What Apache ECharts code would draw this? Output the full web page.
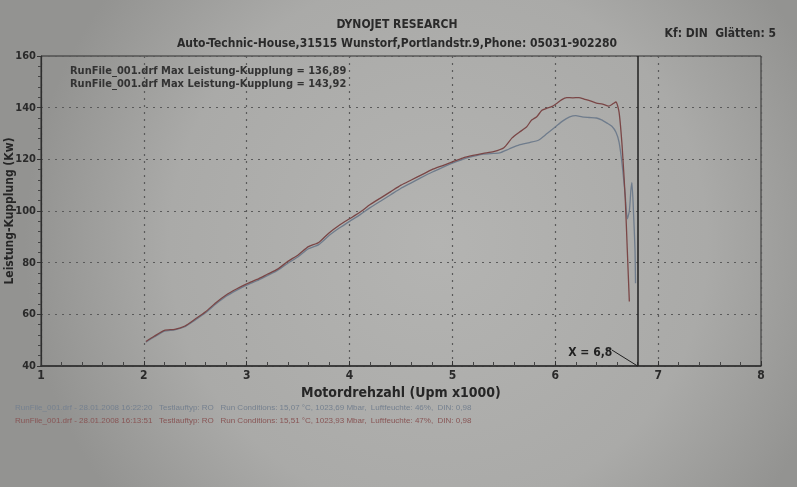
<!DOCTYPE html>
<html><head><meta charset="utf-8">
<script src="https://cdn.jsdelivr.net/npm/echarts@6/dist/echarts.min.js"></script>
<style>html,body{margin:0;padding:0;}#c{width:797px;height:487px;}</style>
</head><body><div id="c"></div>
<script>
var redRpm = [2.02,2.10,2.20,2.30,2.40,2.50,2.60,2.70,2.80,2.90,3.00,3.10,3.20,3.30,3.40,3.50,3.60,3.70,3.80,3.90,4.00,4.10,4.20,4.30,4.40,4.50,4.60,4.70,4.80,4.90,5.00,5.10,5.20,5.30,5.40,5.50,5.58,5.65,5.72,5.77,5.82,5.87,5.92,5.97,6.02,6.06,6.11,6.17,6.23,6.28,6.34,6.40,6.46,6.52,6.56,6.59,6.62,6.65,6.68,6.70,6.72];
var redKw  = [49.5,51.5,53.8,54.2,55.5,58.2,61.0,64.5,67.5,69.8,71.8,73.5,75.5,77.5,80.5,83.0,86.2,87.8,91.5,94.5,97.0,99.5,102.5,105.0,107.5,110.0,112.0,114.0,116.0,117.5,119.0,120.5,121.5,122.3,123.0,124.5,128.3,130.5,132.5,135.2,136.5,139.0,139.8,140.5,141.8,143.0,143.9,143.8,143.9,143.3,142.6,141.8,141.4,140.6,141.5,142.2,138.3,125.0,105.0,85.0,65.0];
var blueRpm = [2.02,2.10,2.20,2.30,2.40,2.50,2.60,2.70,2.80,2.90,3.00,3.10,3.20,3.30,3.40,3.50,3.60,3.70,3.80,3.90,4.00,4.10,4.20,4.30,4.40,4.50,4.60,4.70,4.80,4.90,5.00,5.10,5.20,5.30,5.40,5.46,5.55,5.65,5.75,5.84,5.92,6.00,6.07,6.14,6.20,6.26,6.33,6.40,6.45,6.50,6.55,6.59,6.62,6.65,6.68,6.70,6.72,6.735,6.745,6.76,6.775,6.78];
var blueKw  = [49.2,51.2,53.5,54.0,55.2,57.8,60.6,64.0,67.0,69.3,71.3,73.0,75.0,77.0,79.8,82.3,85.4,87.0,90.5,93.4,96.0,98.5,101.3,103.8,106.3,108.8,110.9,113.0,115.0,116.8,118.5,120.0,121.1,122.0,122.3,122.5,124.0,125.6,126.5,127.5,130.0,132.5,134.8,136.4,136.9,136.4,136.2,136.0,135.3,134.1,132.8,130.5,126.7,118.0,106.0,97.0,100.0,108.0,111.0,100.0,85.0,72.0];
var yTicks = [40,60,80,100,120,140,160];
var xTicks = [1,2,3,4,5,6,7,8];
var cursorX = 6.8;
var legendLines = ['RunFile_001.drf Max Leistung-Kupplung = 136,89','RunFile_001.drf Max Leistung-Kupplung = 143,92'];
var footerLines = ['RunFile_001.drf - 28.01.2008 16:22:20   Testlauftyp: RO   Run Conditions: 15,07 °C, 1023,69 Mbar,  Luftfeuchte: 46%,  DIN: 0,98',
                   'RunFile_001.drf - 28.01.2008 16:13:51   Testlauftyp: RO   Run Conditions: 15,51 °C, 1023,93 Mbar,  Luftfeuchte: 47%,  DIN: 0,98'];

function pairs(xs, ys){ return xs.map(function(x,i){ return [x, ys[i]]; }); }
var FONT = 'DejaVu Sans Condensed';
var chart = echarts.init(document.getElementById('c'));
chart.setOption({
  animation: false,
  backgroundColor: {type:'radial', x:0.55, y:0.5, r:0.85, colorStops:[{offset:0,color:'#b4b4b2'},{offset:0.65,color:'#aaaaa8'},{offset:1,color:'#939391'}]},
  title: [
    {text:'DYNOJET RESEARCH', left:392, top:14, textAlign:'center', textStyle:{fontFamily:FONT,fontWeight:'bold',fontSize:12,color:'#2a2a2a'}},
    {text:'Auto-Technic-House,31515 Wunstorf,Portlandstr.9,Phone: 05031-902280', left:392, top:33, textAlign:'center', textStyle:{fontFamily:FONT,fontWeight:'bold',fontSize:12,color:'#2a2a2a'}},
    {text:'Kf: DIN  Glätten: 5', right:16, top:23, textStyle:{fontFamily:FONT,fontWeight:'bold',fontSize:12,color:'#2a2a2a'}},
    {text:legendLines[0], left:65, top:61, textStyle:{fontFamily:FONT,fontWeight:'bold',fontSize:11,color:'#333'}},
    {text:legendLines[1], left:65, top:74, textStyle:{fontFamily:FONT,fontWeight:'bold',fontSize:11,color:'#333'}},
    {text:footerLines[0], left:10, top:399, textStyle:{fontFamily:'Liberation Sans Narrow, Liberation Sans',fontWeight:'normal',fontSize:8,color:'#75808f'}},
    {text:footerLines[1], left:10, top:412, textStyle:{fontFamily:'Liberation Sans Narrow, Liberation Sans',fontWeight:'normal',fontSize:8,color:'#885555'}}
  ],
  grid: {left:41, right:36, top:56, bottom:121, show:true, borderColor:'#2e2e2e', borderWidth:1, containLabel:false, outerBoundsMode:'none'},
  xAxis: {
    type:'value', min:1, max:8, interval:1,
    name:'Motordrehzahl (Upm x1000)', nameLocation:'middle', nameGap:20, nameMoveOverlap:false,
    nameTextStyle:{fontFamily:FONT,fontWeight:'bold',fontSize:14,color:'#262626'},
    axisLine:{lineStyle:{color:'#2e2e2e',width:1.5}},
    axisTick:{show:true,inside:true,length:5,lineStyle:{color:'#333'}},
    minorTick:{show:true,splitNumber:5,length:4,lineStyle:{color:'#444'}},
    axisLabel:{fontFamily:FONT,fontWeight:'bold',fontSize:12,color:'#2a2a2a',margin:4},
    splitLine:{show:true,lineStyle:{type:[2,5],color:'#5a5a5a',width:1.2}}
  },
  yAxis: {
    type:'value', min:40, max:160, interval:20,
    name:'Leistung-Kupplung (Kw)', nameLocation:'middle', nameGap:25, nameMoveOverlap:false,
    nameTextStyle:{fontFamily:FONT,fontWeight:'bold',fontSize:12,color:'#262626'},
    axisLine:{show:true,lineStyle:{color:'#2e2e2e',width:1.2}},
    axisTick:{show:true,length:4,lineStyle:{color:'#333'}},
    minorTick:{show:true,splitNumber:5,length:3,lineStyle:{color:'#444'}},
    axisLabel:{fontFamily:FONT,fontWeight:'bold',fontSize:11,color:'#2a2a2a',margin:5},
    splitLine:{show:true,lineStyle:{type:[2,5],color:'#5a5a5a',width:1.2}}
  },
  series: [
    {type:'line', name:'blue', data:pairs(blueRpm,blueKw), showSymbol:false, smooth:0.2,
     lineStyle:{color:'#6f7c8c',width:1.3}},
    {type:'line', name:'red', data:pairs(redRpm,redKw), showSymbol:false, smooth:0.2,
     lineStyle:{color:'#7a4646',width:1.3},
     markLine:{silent:true, symbol:'none', animation:false,
       data:[
         {xAxis:cursorX, lineStyle:{color:'#202020',width:1.5,type:'solid'}, label:{show:false}},
         [{coord:[6.55,46.2], lineStyle:{color:'#202020',width:1,type:'solid'}, label:{show:false}},{coord:[cursorX,40]}]
       ]},
     markPoint:{silent:true, symbol:'circle', symbolSize:0,
       data:[{coord:[6.34,45.2], label:{show:true, formatter:'X = 6,8', position:'inside', fontFamily:FONT, fontWeight:'bold', fontSize:12, color:'#222'}}]}
    }
  ]
});
</script></body></html>
